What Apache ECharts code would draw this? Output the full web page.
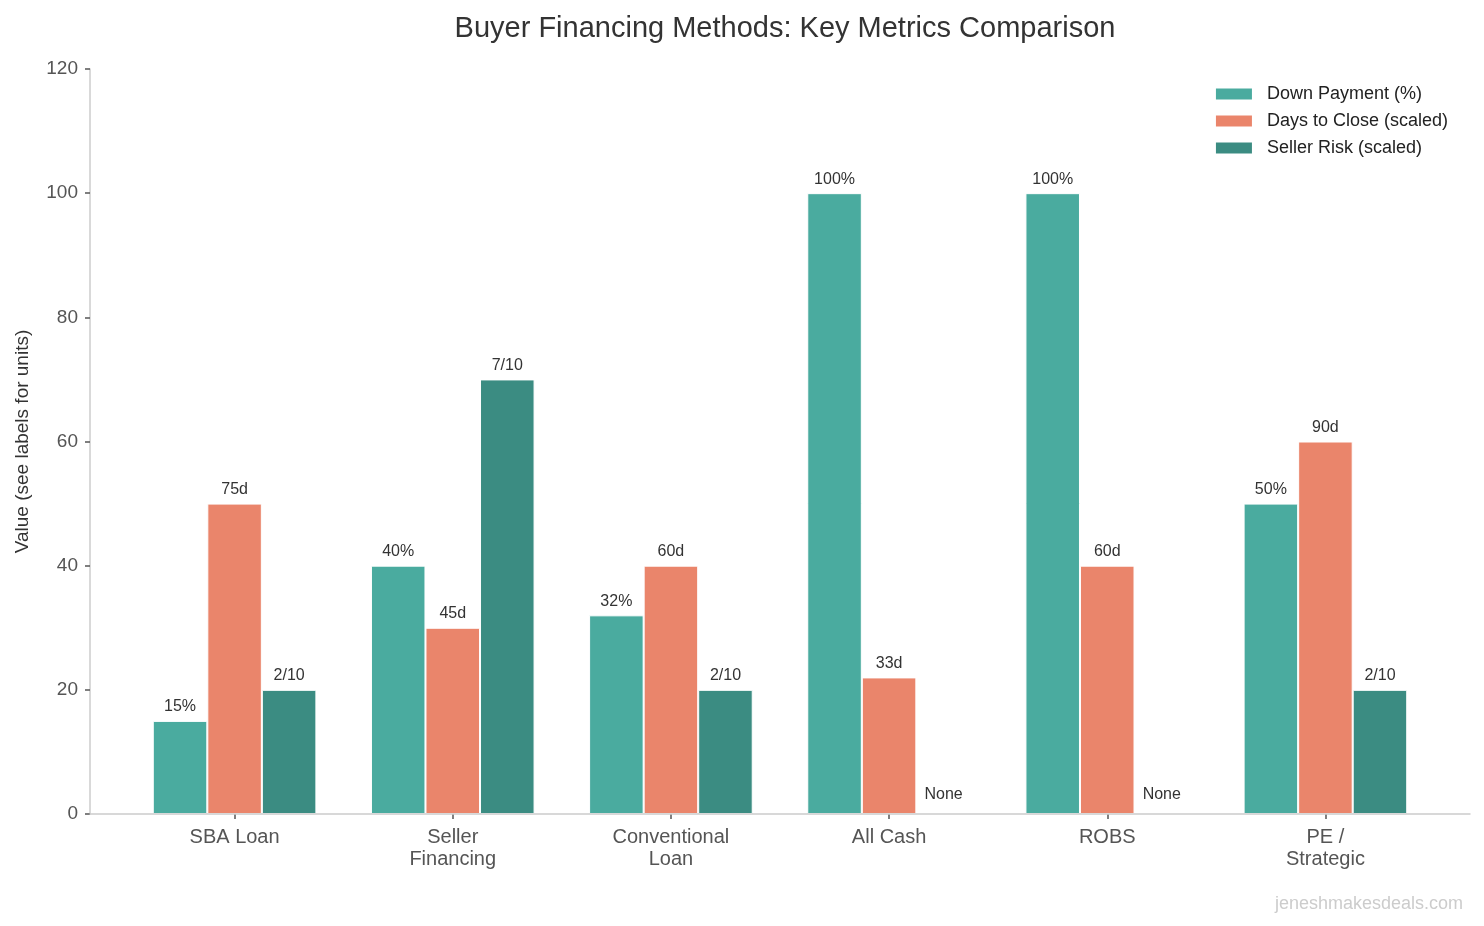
<!DOCTYPE html>
<html><head><meta charset="utf-8">
<script src="https://cdn.jsdelivr.net/npm/echarts@6/dist/echarts.min.js"></script>
<style>html,body{margin:0;padding:0;background:#fff}#c{width:1484px;height:926px}</style>
</head><body><div id="c"></div>
<script>
const categories = ['SBA Loan', 'Seller\nFinancing', 'Conventional\nLoan', 'All Cash', 'ROBS', 'PE /\nStrategic'];
const downPayment = [15, 40, 32, 100, 100, 50];
const daysToClose = [50, 30, 40, 22, 40, 60];
const sellerRisk = [20, 70, 20, 0, 0, 20];
const downPaymentLabels = ['15%', '40%', '32%', '100%', '100%', '50%'];
const daysLabels = ['75d', '45d', '60d', '33d', '60d', '90d'];
const riskLabels = ['2/10', '7/10', '2/10', 'None', 'None', '2/10'];
const yTicks = {min: 0, max: 120, interval: 20};

const FONT = "'Liberation Sans', Arial, Helvetica, sans-serif";
const chart = echarts.init(document.getElementById('c'));
function lbl(arr){
  return {show:true, position:'top', distance:6, color:'#333', fontSize:16, fontFamily:FONT,
    formatter: p => arr[p.dataIndex]};
}
function items(vals){
  return vals.map(v => v === 0 ? {value:v, label:{offset:[0,-5]}} : v);
}
const bw = '25%';
chart.setOption({
  animation:false,
  textStyle:{fontFamily:FONT},
  title:{text:'Buyer Financing Methods: Key Metrics Comparison', left:780, top:9, textAlign:'center',
    textStyle:{fontSize:29, fontWeight:'normal', color:'#333', fontFamily:FONT}},
  legend:{orient:'vertical', right:31, top:80, itemWidth:38, itemHeight:13, itemGap:9, icon:'rect',
    textStyle:{fontSize:18, color:'#222', fontFamily:FONT, padding:[0,0,0,9]},
    data:['Down Payment (%)','Days to Close (scaled)','Seller Risk (scaled)']},
  graphic:[{type:'text', right:21, bottom:13, style:{text:'jeneshmakesdeals.com', fill:'#ccc', fontSize:18, fontFamily:FONT}}],
  grid:[
    {left:90, right:14, top:69, bottom:112},
    {left:125.5, right:49.5, top:69, bottom:112}
  ],
  xAxis:[
    {type:'value', gridIndex:0, min:-0.6625, max:5.6625, z:5, axisLine:{show:true, onZero:false, lineStyle:{color:'#ccc', width:1.5}},
      axisTick:{show:false}, axisLabel:{show:false}, splitLine:{show:false}},
    {type:'category', gridIndex:1, data:categories, axisLine:{show:false},
      axisTick:{show:true, alignWithLabel:true, length:5, lineStyle:{color:'#555', width:1.5}},
      axisLabel:{color:'#555', fontSize:20, fontFamily:FONT, margin:12, lineHeight:22}}
  ],
  yAxis:[
    {type:'value', gridIndex:0, min:yTicks.min, max:yTicks.max, interval:yTicks.interval,
      name:'Value (see labels for units)', nameLocation:'middle', nameGap:58,
      nameTextStyle:{fontSize:19, color:'#333', fontFamily:FONT},
      axisLine:{show:true, onZero:false, lineStyle:{color:'#ccc', width:1.5}},
      axisTick:{show:true, length:5, lineStyle:{color:'#555', width:1.5}},
      axisLabel:{color:'#555', fontSize:19, fontFamily:FONT, margin:12},
      splitLine:{show:false}},
    {type:'value', gridIndex:1, min:yTicks.min, max:yTicks.max, interval:yTicks.interval, show:false, splitLine:{show:false}}
  ],
  series:[
    {name:'Down Payment (%)', type:'bar', xAxisIndex:1, yAxisIndex:1, data:items(downPayment), barWidth:bw, barGap:'0%',
      itemStyle:{color:'#4aab9f', borderColor:'#fff', borderWidth:1}, label:lbl(downPaymentLabels)},
    {name:'Days to Close (scaled)', type:'bar', xAxisIndex:1, yAxisIndex:1, data:items(daysToClose), barWidth:bw, barGap:'0%',
      itemStyle:{color:'#ea856b', borderColor:'#fff', borderWidth:1}, label:lbl(daysLabels)},
    {name:'Seller Risk (scaled)', type:'bar', xAxisIndex:1, yAxisIndex:1, data:items(sellerRisk), barWidth:bw, barGap:'0%',
      itemStyle:{color:'#3b8c82', borderColor:'#fff', borderWidth:1}, label:lbl(riskLabels)}
  ]
});
</script></body></html>
